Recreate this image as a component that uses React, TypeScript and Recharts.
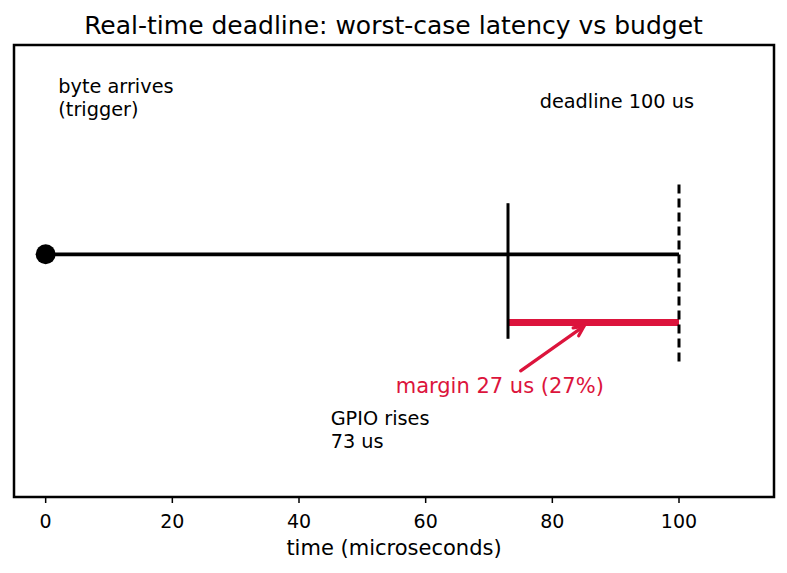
import {
	ComposedChart,
	Line,
	ReferenceArea,
	ReferenceDot,
	ReferenceLine,
	XAxis,
	YAxis,
} from "recharts";

// time axis in microseconds; vertical axis is just 0..1 layout space
const xTicks = [0, 20, 40, 60, 80, 100];
const xDomain: [number, number] = [-5, 115];

const triggerAt = 0;
const gpioAt = 73;
const deadlineAt = 100;
const marginUs = deadlineAt - gpioAt;

const timelineLevel = 0.537;
const marginLevel = 0.386;

const timeline = [
	{ x: triggerAt, y: timelineLevel },
	{ x: deadlineAt, y: timelineLevel },
];
const gpioMark = [
	{ x: gpioAt, y: 0.35 },
	{ x: gpioAt, y: 0.65 },
];
const deadlineMark = [
	{ x: deadlineAt, y: 0.3 },
	{ x: deadlineAt, y: 0.7 },
];
const marginBar = [
	{ x: gpioAt, y: marginLevel },
	{ x: deadlineAt, y: marginLevel },
];
const marginArrow = [
	{ x: 75, y: 0.279 },
	{ x: 85, y: 0.378 },
];

const FONT = "'DejaVu Sans', sans-serif";
const RED = "#dc143c";

const notes = [
	{ x: 2, y: 0.894, lines: ["byte arrives", "(trigger)"], color: "#000", size: 19.3, anchor: "start" },
	{ x: 78, y: 0.861, lines: [`deadline ${deadlineAt} us`], color: "#000", size: 19.3, anchor: "start" },
	{ x: 45, y: 0.16, lines: ["GPIO rises", `${gpioAt} us`], color: "#000", size: 19.3, anchor: "start" },
	{
		x: 71.7,
		y: 0.231,
		lines: [`margin ${marginUs} us (${Math.round((marginUs / deadlineAt) * 100)}%)`],
		color: RED,
		size: 21,
		anchor: "middle",
	},
];

const ArrowShape = (props: any) => {
	const { x1, y1, x2, y2 } = props;
	const ang = Math.atan2(y2 - y1, x2 - x1);
	const len = 11;
	const spread = 0.45;
	const ax = x2 - len * Math.cos(ang - spread);
	const ay = y2 - len * Math.sin(ang - spread);
	const bx = x2 - len * Math.cos(ang + spread);
	const by = y2 - len * Math.sin(ang + spread);
	return (
		<g>
			<line x1={x1} y1={y1} x2={x2} y2={y2} stroke={RED} strokeWidth={3.2} strokeLinecap="round" />
			<polyline
				points={`${ax},${ay} ${x2},${y2} ${bx},${by}`}
				fill="none"
				stroke={RED}
				strokeWidth={3.2}
				strokeLinecap="round"
				strokeLinejoin="round"
			/>
		</g>
	);
};

export default function App() {
	return (
		<div style={{ position: "absolute", left: 0, top: 0, width: 787, height: 573, background: "#fff" }}>
			<div
				style={{
					position: "absolute",
					top: 11,
					width: 787,
					textAlign: "center",
					fontFamily: FONT,
					fontSize: 25,
					lineHeight: "29px",
					color: "#000",
				}}
			>
				Real-time deadline: worst-case latency vs budget
			</div>
			<ComposedChart
				width={787}
				height={573}
				margin={{ top: 45, right: 13, bottom: 18, left: 14 }}
			>
				<XAxis
					dataKey="x"
					type="number"
					domain={xDomain}
					ticks={xTicks}
					allowDataOverflow
					axisLine={false}
					tickLine={{ stroke: "#000", strokeWidth: 1.5 }}
					tickSize={6}
					tickMargin={11.5}
					height={58}
					tick={{ fill: "#000", fontSize: 19, fontFamily: FONT }}
					label={{
						value: "time (microseconds)",
						position: "insideBottom",
						offset: 0,
						fill: "#000",
						fontSize: 21,
						fontFamily: FONT,
					}}
				/>
				<YAxis type="number" domain={[0, 1]} hide allowDataOverflow />
				<ReferenceArea
					x1={xDomain[0]}
					x2={xDomain[1]}
					y1={0}
					y2={1}
					fill="none"
					fillOpacity={0}
					stroke="#000"
					strokeWidth={2.5}
					ifOverflow="visible"
				/>
				<Line
					data={timeline}
					dataKey="y"
					type="linear"
					stroke="#000"
					strokeWidth={3.8}
					dot={false}
					isAnimationActive={false}
				/>
				<Line
					data={marginBar}
					dataKey="y"
					type="linear"
					stroke={RED}
					strokeWidth={7}
					dot={false}
					isAnimationActive={false}
				/>
				<Line
					data={gpioMark}
					dataKey="y"
					type="linear"
					stroke="#000"
					strokeWidth={3}
					dot={false}
					isAnimationActive={false}
				/>
				<Line
					data={deadlineMark}
					dataKey="y"
					type="linear"
					stroke="#000"
					strokeWidth={3}
					strokeDasharray="9 5"
					dot={false}
					isAnimationActive={false}
				/>
				<ReferenceDot x={triggerAt} y={timelineLevel} r={10} fill="#000" stroke="none" />
				<ReferenceLine
					segment={marginArrow}
					shape={ArrowShape}
					ifOverflow="visible"
				/>
				{notes.map((n, i) => (
					<ReferenceDot
						key={i}
						x={n.x}
						y={n.y}
						r={0}
						ifOverflow="visible"
						shape={(p: any) => (
							<text
								x={p.cx}
								y={p.cy}
								fill={n.color}
								fontSize={n.size}
								fontFamily={FONT}
								textAnchor={n.anchor as any}
							>
								{n.lines.map((t, j) => (
									<tspan key={j} x={p.cx} dy={j === 0 ? 0 : 23}>
										{t}
									</tspan>
								))}
							</text>
						)}
					/>
				))}
			</ComposedChart>
		</div>
	);
}
